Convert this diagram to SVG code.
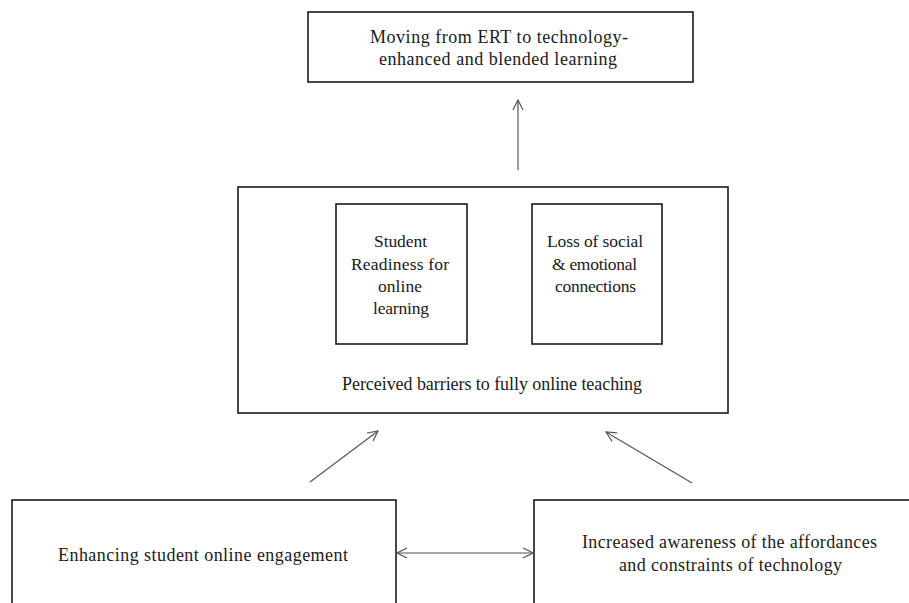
<svg xmlns="http://www.w3.org/2000/svg" width="909" height="603" viewBox="0 0 909 603">
<style>
.box{fill:#fff;stroke:#1a1a1a;stroke-width:1.6}
.t{font-family:"Liberation Serif","Times New Roman",serif;font-size:18px;fill:#1a1a1a;text-anchor:middle}
.s{font-size:17.5px}
.c{stroke:#555;stroke-width:1.2;fill:none}
</style>
<defs>
<marker id="ah" viewBox="0 0 12 12" refX="11" refY="6" markerWidth="12" markerHeight="12" markerUnits="userSpaceOnUse" orient="auto-start-reverse">
<path d="M1,1 L11,6 L1,11" fill="none" stroke="#555" stroke-width="1.2"/>
</marker>
</defs>
<rect width="909" height="603" fill="#fff"/>
<g id="top">
<rect class="box" x="308" y="12" width="385" height="70"/>
<text class="t" x="499" y="43" textLength="258" lengthAdjust="spacing">Moving from ERT to technology-</text>
<text class="t" x="498" y="65" textLength="238" lengthAdjust="spacing">enhanced and blended learning</text>
</g>
<g id="barriers">
<rect class="box" x="238" y="187" width="490" height="226"/>
<text class="t" x="492" y="390" textLength="300" lengthAdjust="spacing">Perceived barriers to fully online teaching</text>
</g>
<g id="readiness">
<rect class="box" x="336" y="204" width="131" height="140"/>
<text class="t s" x="400.5" y="247" textLength="53" lengthAdjust="spacing">Student</text>
<text class="t s" x="400" y="270" textLength="98" lengthAdjust="spacing">Readiness for</text>
<text class="t s" x="400" y="292" textLength="44" lengthAdjust="spacing">online</text>
<text class="t s" x="401" y="314" textLength="56" lengthAdjust="spacing">learning</text>
</g>
<g id="loss">
<rect class="box" x="532" y="204" width="130" height="140"/>
<text class="t s" x="595" y="247" textLength="96" lengthAdjust="spacing">Loss of social</text>
<text class="t s" x="594.5" y="270" textLength="85" lengthAdjust="spacing">&amp; emotional</text>
<text class="t s" x="595.5" y="292" textLength="81" lengthAdjust="spacing">connections</text>
</g>
<g id="engagement">
<rect class="box" x="12" y="500" width="384" height="110"/>
<text class="t" x="203" y="561" textLength="290" lengthAdjust="spacing">Enhancing student online engagement</text>
</g>
<g id="awareness">
<rect class="box" x="534" y="500" width="390" height="110"/>
<text class="t" x="729.5" y="548" textLength="295" lengthAdjust="spacing">Increased awareness of the affordances</text>
<text class="t" x="730.5" y="571" textLength="223" lengthAdjust="spacing">and constraints of technology</text>
</g>
<g id="connectors">
<line class="c" x1="518" y1="170" x2="518" y2="100" marker-end="url(#ah)"/>
<line class="c" x1="310" y1="482" x2="378" y2="431" marker-end="url(#ah)"/>
<line class="c" x1="692" y1="483" x2="606" y2="432" marker-end="url(#ah)"/>
<line class="c" x1="397" y1="553" x2="533" y2="553" marker-start="url(#ah)" marker-end="url(#ah)"/>
</g>
</svg>
